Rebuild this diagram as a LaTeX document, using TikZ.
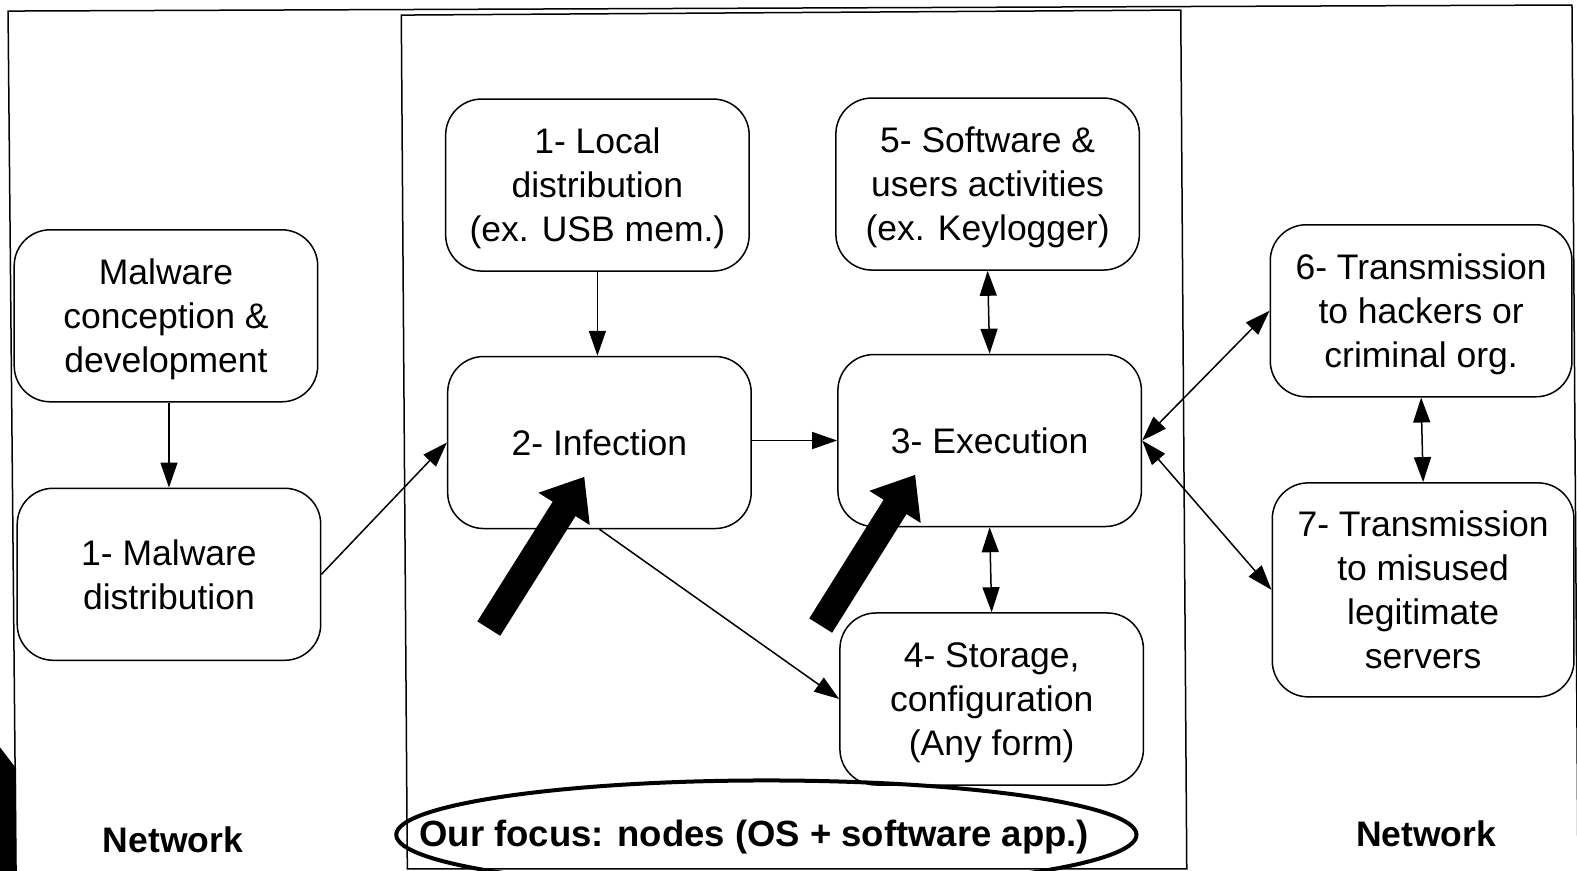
\documentclass[tikz,border=0pt]{standalone}
\usepackage{fontspec}
\setmainfont{Liberation Sans}
\usetikzlibrary{arrows.meta}
\begin{document}
\begin{tikzpicture}[x=1.0057pt,y=-1.0057pt,
  box/.style={draw,line width=1.5pt,rounded corners=36pt,align=center,
    minimum width=303.5pt,minimum height=172pt,inner sep=0pt,text depth=0pt,
    font=\fontsize{35.5}{44}\selectfont},
  tipa/.tip={Triangle[length=25pt,width=17pt]},
  thinarr/.style={line width=1.5pt,-tipa},
  botharr/.style={line width=1.5pt,tipa-tipa},
  blockarr/.style={line width=27pt,-{Triangle[length=38pt,width=58pt]}},
  lbl/.style={font=\fontsize{35.5}{44}\selectfont\bfseries},
  frame/.style={line width=1.5pt}]
\useasboundingbox (0,0) rectangle (1568,866);
\begin{scope}
\clip (0,0) rectangle (1568,866);
\fill (0,743) -- (16,764) -- (16,866) -- (0,866) -- cycle;
\draw[frame] (16,870) -- (8,11) -- (1563,5) -- (1569,870);
\draw[frame] (399,15) -- (1174,10) -- (1180,864) -- (405,864) -- cycle;
\draw[line width=4pt] (762,830) ellipse [x radius=368, y radius=54];
\end{scope}

\node[box] (mc) at (165,314) {Malware\\conception \&\\development};
\node[box] (md) at (168,571) {1- Malware\\distribution};
\node[box] (loc) at (594,184) {1- Local\\distribution\\(ex. USB mem.)};
\node[box] (inf) at (596,440) {2- Infection};
\node[box] (sw) at (982,183) {5- Software \&\\users activities\\(ex. Keylogger)};
\node[box] (exe) at (984,438) {3- Execution};
\node[box] (sto) at (986,695) {4- Storage,\\configuration\\(Any form)};
\node[box,minimum width=301.7pt] (t6) at (1413,309) {6- Transmission\\to hackers or\\criminal org.};
\node[box,minimum width=301.7pt,minimum height=214pt] (t7) at (1415,586.5) {7- Transmission\\to misused\\legitimate\\servers};

\node[lbl] (netl) at (172,835) {Network};
\node[lbl] (netr) at (1418,829) {Network};
\node[lbl,font=\fontsize{36.5}{44}\selectfont\bfseries] (focus) at (750,832) {Our focus: nodes (OS + software app.)};

\draw[thinarr] (mc.south -| md.north) -- (md.north);
\draw[thinarr] (md.east) -- (inf.west);
\draw[thinarr] (loc.south) -- (loc.south |- inf.north);
\draw[thinarr] (inf.east |- exe.west) -- (exe.west);
\draw[thinarr] (inf.south) -- (sto.west);
\draw[botharr] (sw.south) -- (exe.north);
\draw[botharr] (exe.south) -- (sto.north);
\draw[botharr] (exe.east) -- (t6.west);
\draw[botharr] (exe.east) -- (t7.west);
\draw[botharr] (t6.south) -- (t7.north);

\coordinate (b1s) at (486,625);
\coordinate (b1e) at (581,474);
\coordinate (b2s) at (816,622);
\coordinate (b2e) at (910,472);
\draw[blockarr] (b1s) -- (b1e);
\draw[blockarr] (b2s) -- (b2e);
\end{tikzpicture}
\end{document}
